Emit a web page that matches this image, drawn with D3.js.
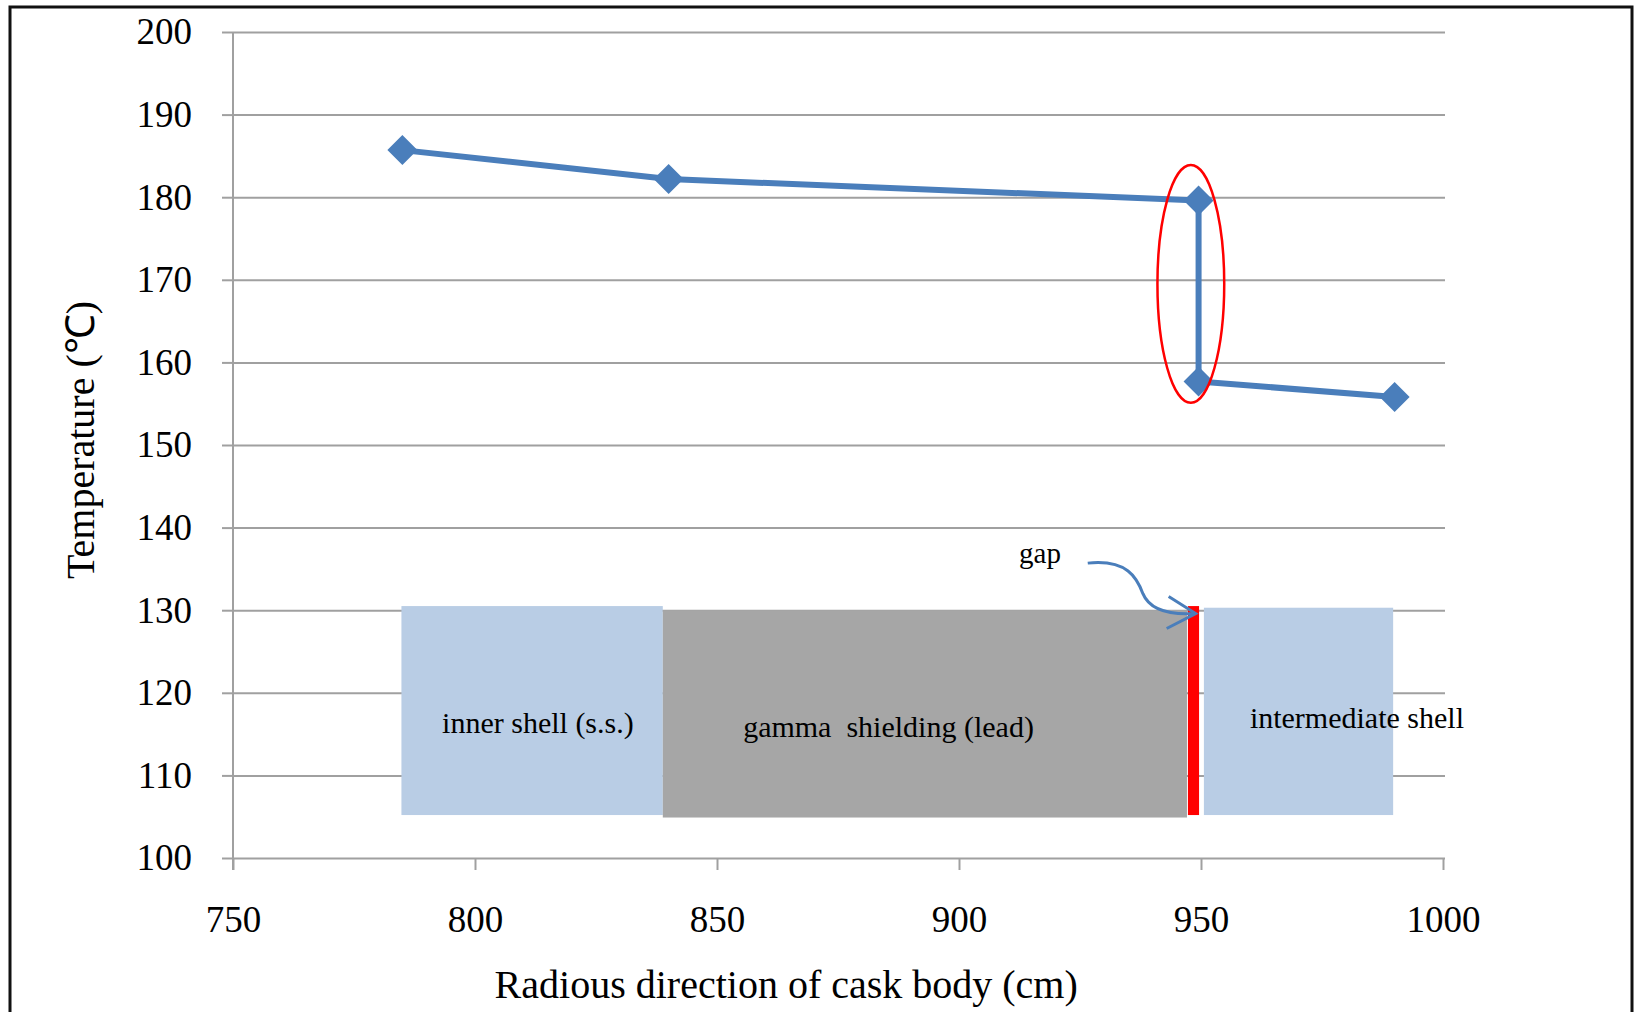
<!DOCTYPE html>
<html>
<head>
<meta charset="utf-8">
<script src="https://cdn.jsdelivr.net/npm/d3@7"></script>
<style>
  body { margin: 0; background: #fff; }
  text { font-family: "Liberation Serif", "Times New Roman", serif; fill: #000; }
</style>
</head>
<body>
<div id="chart"></div>
<script>
// temperature along the cask wall
const radius = [785, 840, 949.5, 949.5, 990];
const temperature = [185.7, 182.2, 179.6, 157.7, 155.8];

const xTicks = [750, 800, 850, 900, 950, 1000];
const yTicks = [100, 110, 120, 130, 140, 150, 160, 170, 180, 190, 200];

// wall layers drawn under the curve
const layerNames = ["inner shell (s.s.)", "gamma  shielding (lead)", "gap", "intermediate shell"];
const layerStart = [784.8, 838.8, 947.3, 950.6];
const layerEnd = [838.8, 947.1, 949.6, 989.7];
const layerTop = [130.5, 130.0, 130.5, 130.3];
const layerBottom = [105.2, 104.9, 105.2, 105.2];
const labelX = [793.2, 855.4, null, 960.1];
const labelY = [115.1, 114.6, null, 115.7];

const width = 1634, height = 1012;
const margin = {top: 32, right: 191, bottom: 154, left: 233};

const x = d3.scaleLinear().domain([750, 1000]).range([margin.left, width - margin.right]);
const y = d3.scaleLinear().domain([100, 200]).range([height - margin.bottom, margin.top]);

const fills = ["#b9cde5", "#a6a6a6", "#ff0000", "#b9cde5"];

const svg = d3.select("#chart").append("svg")
  .attr("width", width)
  .attr("height", height)
  .attr("viewBox", [0, 0, width, height]);

// outer frame (bottom edge runs off the picture)
svg.append("rect")
  .attr("x", 10).attr("y", 7)
  .attr("width", 1622).attr("height", 1030)
  .attr("fill", "none")
  .attr("stroke", "#111")
  .attr("stroke-width", 3);

// grid + y axis
svg.append("g")
  .attr("transform", `translate(${margin.left},0)`)
  .call(d3.axisLeft(y).tickValues(yTicks).tickSize(11).tickPadding(30).tickFormat(d3.format("d")))
  .call(g => g.select(".domain").remove())
  .call(g => g.selectAll(".tick line").clone()
    .attr("x2", width - margin.left - margin.right + 2))
  .call(g => g.selectAll(".tick line").attr("stroke", "#a0a0a0").attr("stroke-width", 2))
  .call(g => g.selectAll(".tick text")
    .attr("font-size", 37)
    .attr("font-family", "Liberation Serif")
    .attr("fill", "#000"));

// x axis
svg.append("g")
  .attr("transform", `translate(0,${y(100)})`)
  .call(d3.axisBottom(x).tickValues(xTicks).tickSize(12).tickPadding(36).tickFormat(d3.format("d")))
  .call(g => g.select(".domain").remove())
  .call(g => g.selectAll(".tick line").attr("stroke", "#a0a0a0").attr("stroke-width", 2))
  .call(g => g.selectAll(".tick text")
    .attr("font-size", 37)
    .attr("font-family", "Liberation Serif")
    .attr("fill", "#000"));

// vertical axis line
svg.append("line")
  .attr("x1", x(750)).attr("x2", x(750))
  .attr("y1", y(200)).attr("y2", y(100) + 12)
  .attr("stroke", "#a0a0a0").attr("stroke-width", 2);

// layers
const layers = layerNames.map((name, i) => ({
  name, x0: layerStart[i], x1: layerEnd[i], y0: layerBottom[i], y1: layerTop[i],
  lx: labelX[i], ly: labelY[i], fill: fills[i]
}));

svg.append("g")
  .selectAll("rect")
  .data(layers)
  .join("rect")
    .attr("x", d => x(d.x0))
    .attr("y", d => y(d.y1))
    .attr("width", d => x(d.x1) - x(d.x0))
    .attr("height", d => y(d.y0) - y(d.y1))
    .attr("fill", d => d.fill);

svg.append("g")
  .selectAll("text")
  .data(layers.filter(d => d.lx != null))
  .join("text")
    .attr("x", d => x(d.lx))
    .attr("y", d => y(d.ly))
    .attr("font-size", 30)
    .attr("xml:space", "preserve")
    .style("white-space", "pre")
    .text(d => d.name);

// "gap" callout
svg.append("text")
  .attr("x", x(912.4))
  .attr("y", y(135.7))
  .attr("font-size", 29)
  .text("gap");

const arrowPts = [[926.6, 135.7], [934.8, 136.2], [936.8, 133.9], [938.0, 132.0],
                  [939.4, 130.0], [943.5, 129.4], [948.9, 129.6]];
const p = arrowPts.map(([a, b]) => [x(a), y(b)]);
const arrow = d3.path();
arrow.moveTo(...p[0]);
arrow.bezierCurveTo(...p[1], ...p[2], ...p[3]);
arrow.bezierCurveTo(...p[4], ...p[5], ...p[6]);
svg.append("path")
  .attr("d", arrow.toString())
  .attr("fill", "none")
  .attr("stroke", "#4a7ebb")
  .attr("stroke-width", 3);

const tip = p[6];
svg.append("path")
  .attr("d", d3.line()([[tip[0] - 27, tip[1] - 17], tip, [tip[0] - 29, tip[1] + 15]]))
  .attr("fill", "none")
  .attr("stroke", "#4a7ebb")
  .attr("stroke-width", 3);

// temperature curve
const pts = radius.map((r, i) => [r, temperature[i]]);

svg.append("path")
  .datum(pts)
  .attr("fill", "none")
  .attr("stroke", "#4a7ebb")
  .attr("stroke-width", 6)
  .attr("stroke-linejoin", "round")
  .attr("d", d3.line().x(d => x(d[0])).y(d => y(d[1])));

const diamond = d3.symbol().type(d3.symbolSquare).size(450);
svg.append("g")
  .selectAll("path")
  .data(pts)
  .join("path")
    .attr("d", diamond)
    .attr("fill", "#4a7ebb")
    .attr("transform", d => `translate(${x(d[0])},${y(d[1])}) rotate(45)`);

// red ellipse marking the drop across the gap
svg.append("ellipse")
  .attr("cx", x(947.9))
  .attr("cy", y(169.5))
  .attr("rx", x(947.9 + 6.9) - x(947.9))
  .attr("ry", y(169.5 - 14.4) - y(169.5))
  .attr("fill", "none")
  .attr("stroke", "#ff0000")
  .attr("stroke-width", 2.5);

// axis titles
svg.append("text")
  .attr("x", x(864.3))
  .attr("y", 998)
  .attr("text-anchor", "middle")
  .attr("font-size", 40)
  .text("Radious direction of cask body (cm)");

svg.append("text")
  .attr("transform", `translate(94,${440}) rotate(-90)`)
  .attr("text-anchor", "middle")
  .attr("font-size", 40)
  .text("Temperature (℃)");
</script>
</body>
</html>
